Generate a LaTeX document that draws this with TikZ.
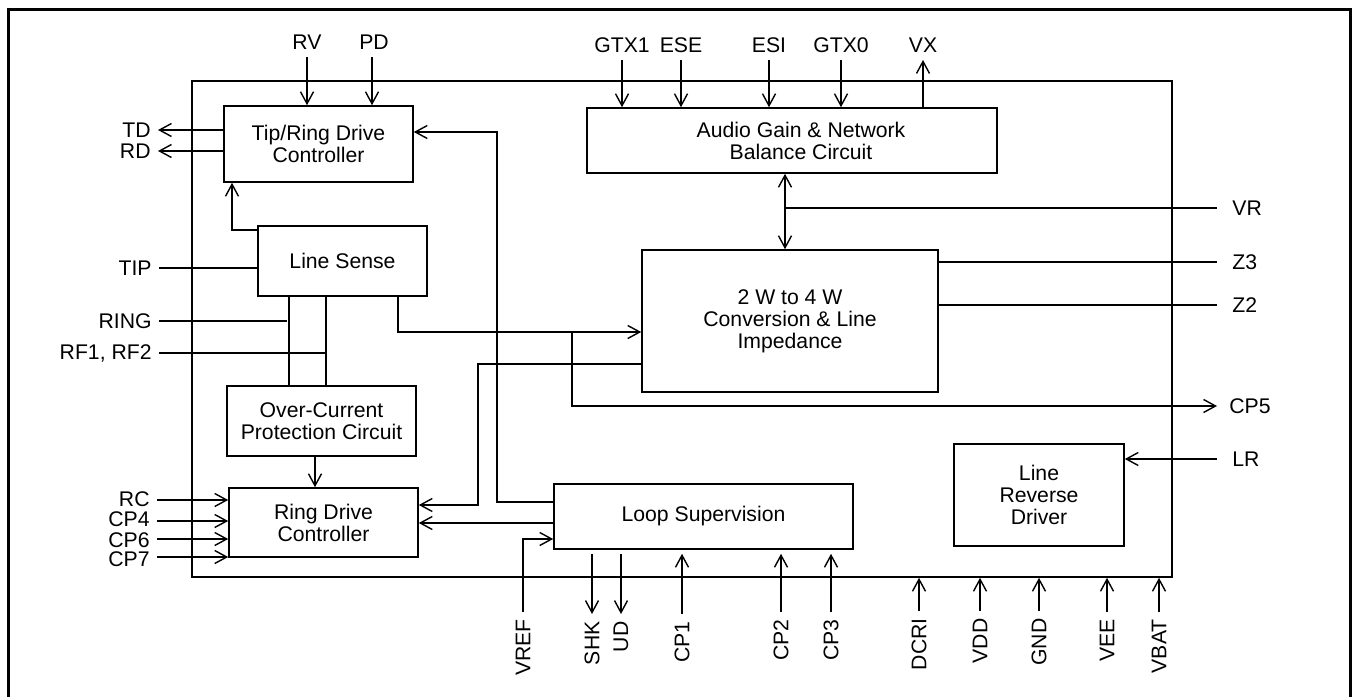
\documentclass[tikz,border=0pt]{standalone}
\usepackage{fontspec}
\setmainfont{Liberation Sans}
\usetikzlibrary{arrows.meta}
\begin{document}
\begin{tikzpicture}[x=0.5pt,y=-0.5pt,
  ln/.style={line width=0.7pt},
  arr/.style={ln,-{Straight Barb[length=6pt,width=6.5pt]}},
  arrboth/.style={ln,{Straight Barb[length=6pt,width=6.5pt]}-{Straight Barb[length=6pt,width=6.5pt]}},
  box/.style={draw,line width=0.8pt,align=center,inner sep=1pt,
    font=\fontsize{10.6}{11}\selectfont},
  pin/.style={font=\fontsize{10.6}{12}\selectfont,inner sep=3.5pt},
  rpin/.style={pin,inner xsep=7.5pt,anchor=west},
  lpin/.style={pin,inner ysep=0pt,anchor=east},
  tpin/.style={pin,anchor=south},
  vpin/.style={pin,rotate=90,anchor=east},
]
\useasboundingbox (0,0) rectangle (1358,696);
\clip (0,0) rectangle (1358,696);
\draw[line width=1.5pt] (8.5,9.5) rectangle (1350.5,720);

% chip outline
\node[draw,line width=0.8pt,minimum width=490pt,minimum height=248pt,inner sep=0pt] (chip) at (682,329) {};

% blocks
\node[box,minimum width=94.5pt,minimum height=38pt] (tr) at (318.5,144) {Tip/Ring Drive\\Controller};
\node[box,minimum width=84.5pt,minimum height=35pt] (ls) at (342.5,261) {Line Sense};
\node[box,minimum width=94.5pt,minimum height=35pt] (oc) at (321.5,421) {Over-Current\\Protection Circuit};
\node[box,minimum width=94.5pt,minimum height=34.5pt] (rd) at (323.5,522.5) {Ring Drive\\Controller};
\node[box,minimum width=149.5pt,minimum height=32.5pt] (lsup) at (703.5,516.5) {Loop Supervision};
\node[box,minimum width=205pt,minimum height=32.5pt] (ag) at (792,140.5) {\hspace*{9pt}Audio Gain \& Network\\\hspace*{9pt}Balance Circuit};
\node[box,minimum width=148pt,minimum height=71pt] (cv) at (790,321) {2 W to 4 W\\Conversion \& Line\\Impedance};
\node[box,minimum width=85pt,minimum height=51pt] (lr) at (1039,495) {Line\\Reverse\\Driver};

% top pins
\node[tpin] (pRV) at (307,57) {RV};
\node[tpin] (pPD) at (374,57) {PD};
\node[tpin] (pGTX1) at (622,60) {GTX1};
\node[tpin] (pESE) at (681,60) {ESE};
\node[tpin] (pESI) at (769,60) {ESI};
\node[tpin] (pGTX0) at (841,60) {GTX0};
\node[tpin] (pVX) at (923,60) {VX};
\draw[arr] (pRV) -- (pRV |- tr.north);
\draw[arr] (pPD.south -| 372,0) -- (tr.north -| 372,0);
\draw[arr] (pGTX1) -- (pGTX1 |- ag.north);
\draw[arr] (pESE) -- (pESE |- ag.north);
\draw[arr] (pESI) -- (pESI |- ag.north);
\draw[arr] (pGTX0) -- (pGTX0 |- ag.north);
\draw[arr] (pVX |- ag.north) -- (pVX);

% left pins
\node[lpin] (pTD) at (158,130) {TD};
\node[lpin] (pRD) at (158,151) {RD};
\node[lpin] (pTIP) at (159,268) {TIP};
\node[lpin] (pRING) at (159,321) {RING};
\node[lpin] (pRF) at (159,353) {RF1, RF2};
\node[lpin] (pRC) at (157,499.5) {RC};
\node[lpin] (pCP4) at (157,519.5) {CP4};
\node[lpin] (pCP6) at (157,540) {CP6};
\node[lpin] (pCP7) at (157,559.5) {CP7};
\draw[arr] (tr.west |- pTD) -- (pTD);
\draw[arr] (tr.west |- pRD) -- (pRD);
\draw[ln] (pTIP) -- (pTIP -| ls.west);
\draw[ln] (pRING) -- (pRING -| 287,0);
\draw[ln] (pRF) -- (pRF -| 326,0);
\draw[arr] (pRC.east |- 0,500) -- (rd.west |- 0,500);
\draw[arr] (pCP4.east |- 0,521) -- (rd.west |- 0,521);
\draw[arr] (pCP6.east |- 0,539) -- (rd.west |- 0,539);
\draw[arr] (pCP7.east |- 0,557) -- (rd.west |- 0,557);

% internal left links
\draw[arr] (ls.west |- 0,230) -| (tr.south -| 232,0);
\draw[ln] (ls.south -| 289,0) -- (oc.north -| 289,0);
\draw[ln] (ls.south -| 326,0) -- (oc.north -| 326,0);
\draw[arr] (oc.south -| 315,0) -- (rd.north -| 315,0);

% right pins
\node[rpin] (pVR) at (1217,208) {VR};
\node[rpin] (pZ3) at (1217,262) {Z3};
\node[rpin] (pZ2) at (1217,305) {Z2};
\node[rpin,inner xsep=6pt] (pCP5) at (1217,406) {CP5};
\node[rpin] (pLR) at (1217,459) {LR};
\draw[arrboth] (ag.south -| 785,0) -- (cv.north -| 785,0);
\draw[ln] (pVR) -- (pVR -| 785,0);
\draw[ln] (cv.east |- pZ3) -- (pZ3);
\draw[ln] (cv.east |- pZ2) -- (pZ2);
\draw[arr] (pLR) -- (pLR -| lr.east);

% line sense to conversion, CP5 branch
\coordinate (j1) at (572,332);
\draw[arr] (ls.south -| 398,0) |- (j1) -- (j1 -| cv.west);
\draw[arr] (j1) |- (pCP5);

% loop supervision links
\draw[arr] (lsup.west |- 0,502) -| (497,132) -- (tr.east |- 0,132);
\draw[arr] (cv.west |- 0,364) -| (478,505) -- (rd.east |- 0,505);
\draw[arr] (lsup.west |- 0,523) -- (rd.east |- 0,523);

% bottom pins
\node[vpin] (pVREF) at (523,612) {VREF};
\node[vpin] (pSHK) at (592,614) {SHK};
\node[vpin] (pUD) at (621,614) {UD};
\node[vpin] (pCP1) at (682,614) {CP1};
\node[vpin] (pCP2) at (781,612) {CP2};
\node[vpin] (pCP3) at (831,612) {CP3};
\node[vpin] (pDCRI) at (919,611) {DCRI};
\node[vpin] (pVDD) at (980,611) {VDD};
\node[vpin] (pGND) at (1039,611) {GND};
\node[vpin] (pVEE) at (1107,612) {VEE};
\node[vpin] (pVBAT) at (1159,612) {VBAT};
\draw[arr] (pVREF) |- (lsup.west |- 0,539);
\draw[arr] ([yshift=-2pt]pSHK |- lsup.south) -- (pSHK);
\draw[arr] ([yshift=-2pt]pUD |- lsup.south) -- (pUD);
\draw[arr] (pCP1) -- ([yshift=-2pt]pCP1 |- lsup.south);
\draw[arr] (pCP2) -- ([yshift=-2pt]pCP2 |- lsup.south);
\draw[arr] (pCP3) -- ([yshift=-2pt]pCP3 |- lsup.south);
\draw[arr] (pDCRI) -- (pDCRI |- chip.south);
\draw[arr] (pVDD) -- (pVDD |- chip.south);
\draw[arr] (pGND) -- (pGND |- chip.south);
\draw[arr] (pVEE) -- (pVEE |- chip.south);
\draw[arr] (pVBAT) -- (pVBAT |- chip.south);
\end{tikzpicture}
\end{document}
